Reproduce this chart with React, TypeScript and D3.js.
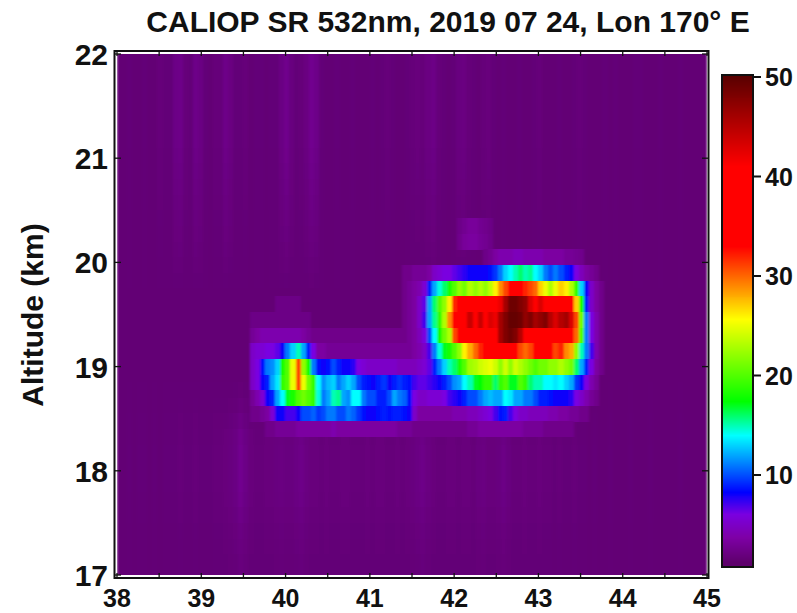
import React from "react";
import * as d3 from "d3";

const titleText = "CALIOP SR 532nm, 2019 07 24, Lon 170° E";
const yLabel = "Altitude (km)";
const xTicks = [38, 39, 40, 41, 42, 43, 44, 45];
const yTicks = [17, 18, 19, 20, 21, 22];
const cbTicks = [10, 20, 30, 40, 50];

const colorValues = [1.2, 3.7, 6, 8.3, 14, 17.4, 25.6, 33, 41, 50.2];
const colorHex = ["#5e006c", "#7e00a6", "#7a00e0", "#0000ff", "#00ffff", "#00ff00", "#ffff00", "#ff0000", "#ff0000", "#580000"];

const lonStep = 0.06;
const altStep = 0.15;
const bgBase = 1.6;
// background curtain: vertical streak profile, one value per 0.06 deg from 38 E
const bgTop = [
  1.6, 1.6, 1.7, 1.6, 1.6, 1.7, 1.6, 1.6, 1.8, 1.7, 1.7, 2.3, 2.4, 1.8, 1.7, 2.4, 2.2, 1.7, 1.6, 1.8,
  1.8, 2.4, 2.1, 1.7, 1.7, 1.8, 1.6, 1.7, 1.7, 1.6, 1.7, 1.7, 2.2, 2.6, 2.0, 1.7, 1.8, 2.1, 2.7, 2.4,
  1.7, 1.6, 1.6, 1.7, 1.6, 1.6, 1.7, 1.6, 1.6, 1.6, 1.7, 1.6, 1.7, 1.8, 1.7, 1.6, 1.6, 1.7, 1.8, 1.9,
  1.8, 2.1, 2.3, 1.8, 1.7, 1.6, 1.7, 2.0, 2.1, 1.8, 1.7, 1.6, 1.8, 1.9, 1.7, 1.6, 1.7, 1.6, 1.6, 1.7,
  1.6, 1.6, 1.7, 1.8, 1.6, 1.6, 1.6, 1.7, 1.6, 1.6, 1.7, 1.8, 1.7, 1.6, 1.6, 1.6, 1.7, 1.6, 1.7, 1.6,
  1.6, 1.6, 1.7, 1.7, 1.6, 1.6, 1.6, 1.7, 1.6, 1.6, 1.6, 1.7, 1.6, 1.6, 1.6, 1.6, 1.6,
];
const bgBottom = [
  1.6, 1.6, 1.7, 1.6, 1.7, 1.7, 1.6, 1.7, 1.6, 1.7, 1.7, 1.7, 1.8, 1.7, 1.7, 1.8, 1.7, 1.7, 1.7, 1.8,
  1.8, 1.9, 2.0, 2.2, 2.7, 2.3, 1.9, 1.8, 1.8, 1.9, 1.9, 2.0, 2.1, 2.0, 2.0, 2.2, 2.4, 2.1, 1.9, 1.9,
  1.8, 1.9, 1.8, 1.8, 1.9, 1.9, 1.8, 1.8, 1.8, 1.9, 1.8, 1.9, 1.9, 1.8, 1.8, 1.9, 1.8, 1.9, 2.0, 2.2,
  2.4, 2.1, 1.9, 1.8, 1.8, 1.9, 1.9, 1.8, 1.9, 1.9, 1.8, 2.0, 2.1, 1.9, 1.9, 2.0, 2.3, 2.0, 1.8, 1.8,
  1.9, 1.8, 1.8, 1.9, 1.8, 1.8, 1.7, 1.8, 1.7, 1.7, 1.8, 1.7, 1.7, 1.6, 1.7, 1.6, 1.6, 1.7, 1.6, 1.6,
  1.6, 1.7, 1.6, 1.6, 1.6, 1.7, 1.6, 1.6, 1.6, 1.6, 1.6, 1.7, 1.6, 1.6, 1.6, 1.6, 1.6,
];
// how strongly the streaks show at each 0.15 km altitude row, from 22 km down
const bgStrength = [1, 1, 1, 1, 1, 1, 0.9, 0.8, 0.7, 0.6, 0.5, 0.4, 0.3, 0.2, 0.1, 0, 0, 0, 0, 0, 0, 0.1, 0.3, 0.6, 0.9, 1, 1, 1, 0.9, 0.7, 0.5, 0.4, 0.3, 0.3];

// aerosol plume: 14 altitude rows from the top, 70 longitude cells each
const plumeLonStart = 39.578;
const plumeAltTop = 20.424;
const r00 = [2,2,2,2,2,2,2,2,2,2, 2,2,2,2,2,2,2,2,2,2, 2,2,2,2,2,2,2,2,2,2, 2,2,2,2,2,2,2,2,2,2, 2,2.4,2.8,3.2,3.2,2.8,2.6,2.3,2,2, 2,2,2,2,2,2,2,2,2,2, 2,2,2,2,2,2,2,2,2,2];
const r01 = [2,2,2,2,2,2,2,2,2,2, 2,2,2,2,2,2,2,2,2,2, 2,2,2,2,2,2,2,2,2,2, 2,2,2,2,2,2,2,2,2,2, 2,2.6,3.2,3.4,3.4,3,2.8,2.4,2,2, 2,2,2,2,2,2,2,2,2,2, 2,2,2,2,2,2,2,2,2,2];
const r02 = [2,2,2,2,2,2,2,2,2,2, 2,2,2,2,2,2,2,2,2,2, 2,2,2,2,2,2,2,2,2,2, 2,2,2,2,2,2.2,2.2,2.2,2.2,2.2, 2.2,2.2,2.2,2.2,2.2,2.2,2.4,2.8,3.5,4, 4,4,4.5,4.5,4,4,4,4,3.5,3.5, 3.5,3.5,3,3,2.8,2.6,2.2,2.2,2.2,2.2];
const r03 = [2,2,2,2,2,2,2,2,2,2, 2,2,2,2,2,2,2,2,2,2, 2,2,2,2,2,2,2,2,2,2, 2.5,2.5,3,3,3,3.5,5,5.5,6,6, 6.5,7,7.5,8,8,8,8,8.5,9.5,11, 13,14,15,16,15,15.5,14,13,11,10, 11,10,9,8,6,4.5,3.5,3,2.5,2.2];
const r04 = [2,2,2,2,2,2,2,2,2,2, 2,2,2,2,2,2,2,2,2,2, 2,2,2,2,2,2,2,2,2,2, 2.5,3,3.5,4,5.5,9,12,14.5,16,18, 20,22,21,23,22,23,22,23.5,26,29, 31,34,34,33,32,31,30,27,25,23, 25,27,26,23,19,13,8,5,3.5,2.5];
const r05 = [2,2,2,2,2,2.3,2.3,2.3,2.3,2.3, 2,2,2,2,2,2,2,2,2,2, 2,2,2,2,2,2,2,2,2,2, 2.5,3,3.5,5,6.5,12,16,20,22,26, 32,35,37,37,37,38,37,38,39,42, 46,49,49,48,47,43,39,43,41,37, 38,37,38,36,27,18,9,5,3.5,2.5];
const r06 = [2.3,2.3,2.3,2.3,2.3,2.3,2.3,2.3,2.3,2.3, 2.3,2.3,2.2,2,2,2,2,2,2,2, 2,2,2,2,2,2,2,2,2,2, 2.5,3,3.5,5,7,12,15.5,19,23,29, 34,37,39,44,40,44,40,43,42,46, 48,49.5,49.5,49,47,48,46,47,48,45, 43,45,46,43,31,21,11,6,4,2.5];
const r07 = [3,3.5,4,4,4,4,4,4,4,4, 3.5,3,2.5,2.5,2.5,2.5,2.5,2.5,2.5,2.5, 2.5,2.5,2.5,2.5,2.5,2.5,2.5,2.5,2.5,2.5, 2.5,3,3.5,4.5,6,10,14,18,21,23, 31,36,37,37,36,38,37,36,39,46, 48,49,48,45,41,39,40,38,39,37, 38,37,38,36,30,20,11,6,4,2.5];
const r08 = [5,5.5,5.5,6,6,6.5,8,11,13,15, 12,9,6,3.5,3.5,3,3,3,3,3, 3,3,3,3,3,3,3,3,3,3, 3,3,3.5,4,5,7,11,14.5,17,18, 20,22,26,28,30,32,35,36,37,36, 37,38,36,31,30,31,36,36,37,35, 31,32,29,28,22,15,11,7,4,2.5];
const r09 = [5,6,8.5,11,11.5,13,18,20,25,31, 22,18,11,8.5,8,8.5,10,9,8,8, 7.5,6,5.5,5,5,5,5,5,5,4.5, 4.5,4.5,4.5,5,5.5,6.5,9,11,13,15, 16,18,20,22.5,23,24,24.5,25,24,22, 24,22,24,23,22,21,20,21,21,22, 22,23,22,21,16,12,9,6,3.5,2.5];
const r10 = [5,6,8,9,12,13.5,19,20,25,31, 25,21,19,14,11.5,12.5,13,11,12,13, 12,10,9,8.5,8,9,9.5,8,9,9.5, 9,8.5,7,6.5,6.5,7,7.5,8,9,10, 11.5,12,14,15,17,17.5,19,19,16,19, 20,17,17,20,19,16,15,15,14,14, 13.5,14,13,12,9.5,8,6,4,3,2.2];
const r11 = [3,4,5.5,8,9,12,14,17,18,20, 21,20,19,14.5,11,12,15,15.5,12,11.5, 14,14,11,10,10,9,9,10,12,11, 10.5,8.5,6,5,5,5.5,5.5,5.5,6,7, 7.5,8,9,10,10,11,12,12.5,12,12, 14,13.5,12,12,11,11,10,9,9,8.5, 8,8,8,7.5,6,5,4,3,2.5,2.2];
const r12 = [2.5,2.5,3,3.5,5.5,8,8,7,7,8, 10,10,10.5,9.5,10,11,11,10,10,11, 10.5,9.5,8.5,8,8,8.5,9,8.5,9,9, 8.5,8,5,3.5,3.5,3.5,3.5,3.5,3.5,3.5, 4,4,4,4.5,4.5,5,5.5,6,7,8.5, 9,7,6,5,5,4.5,4.5,4.5,4.5,4, 4,3.5,3.5,3,3,2.5,2.5,2.2,2,2];
const r13 = [2,2,2.2,2.5,2.5,3,3,3,3,3.5, 3.5,3.5,3.5,3.5,3.5,3.5,4,3.5,3.5,3.5, 3.5,3.5,3.5,3.5,3.5,3.5,3.5,3.5,3.5,3, 3,3,2.5,2.5,2.5,2.5,2.5,2.5,2.5,2.5, 2.5,2.5,2.5,3,3,3.5,3.5,3.5,3.5,3.5, 3.5,3.5,3.5,3.5,3,3,3,3,2.5,2.5, 2.5,2.5,2.5,2.5,2.2,2.2,2,2,2,2];
const plumeRows = [r00, r01, r02, r03, r04, r05, r06, r07, r08, r09, r10, r11, r12, r13];

const x = d3.scaleLinear().domain([38, 45]).range([117, 707]);
const y = d3.scaleLinear().domain([17, 22]).range([575, 54]);
const color = d3.scaleLinear<string>().domain(colorValues).range(colorHex).clamp(true);
const cbY = d3.scaleLinear().domain([10, 50]).range([475, 77]);

const font = "'Liberation Sans', Arial, sans-serif";

export default function App() {
  const minorX = d3.range(38, 45.01, 0.5);
  const bgCells = bgStrength.flatMap((s, j) => {
    const altT = 22 - j * altStep;
    const altB = Math.max(17, altT - altStep);
    const arr = j < 17 ? bgTop : bgBottom;
    return arr.map((v, i) => {
      const l0 = 38 + i * lonStep;
      const l1 = Math.min(45, l0 + lonStep);
      return (
        <rect key={`b${j}-${i}`} x={x(l0)} y={y(altT)} width={x(l1) - x(l0) + 0.4} height={y(altB) - y(altT) + 0.4} fill={color(bgBase + (v - bgBase) * s)} />
      );
    });
  });
  const plumeCells = plumeRows.flatMap((row, j) => {
    const altT = plumeAltTop - j * altStep;
    return row.map((v, i) => {
      if (v <= 2.2) return null;
      const l0 = plumeLonStart + i * lonStep;
      return (
        <rect key={`p${j}-${i}`} x={x(l0)} y={y(altT)} width={x(l0 + lonStep) - x(l0) + 0.4} height={y(altT - altStep) - y(altT) + 0.4} fill={color(v)} />
      );
    });
  });
  const barValues = d3.range(0.8, 50.2, 0.1);
  return (
    <svg width={797} height={613} style={{ position: "absolute", left: 0, top: 0, background: "#fff" }} fontFamily={font} fontWeight="bold">
      <defs>
        <clipPath id="plot"><rect x={117} y={54} width={590} height={521} /></clipPath>
        <filter id="soft" x="-2%" y="-2%" width="104%" height="104%"><feGaussianBlur stdDeviation="1.3 0.6" /></filter>
      </defs>
      <g clipPath="url(#plot)">
        <g filter="url(#soft)" shapeRendering="crispEdges">
          {bgCells}
          {plumeCells}
        </g>
      </g>
      <rect x={114.5} y={51} width={594} height={527} fill="none" stroke="#111" strokeWidth={2} />
      {minorX.map((t) => (
        <g key={t} stroke="#111" strokeWidth={1.3}>
          <line x1={x(t)} x2={x(t)} y1={51} y2={56} />
          <line x1={x(t)} x2={x(t)} y1={578} y2={573} />
        </g>
      ))}
      {yTicks.map((t) => (
        <g key={t} stroke="#111" strokeWidth={1.3}>
          <line x1={114.5} x2={121} y1={y(t)} y2={y(t)} />
          <line x1={708.5} x2={702} y1={y(t)} y2={y(t)} />
        </g>
      ))}
      <text x={448} y={32} textAnchor="middle" fontSize={30} fill="#111">{titleText}</text>
      <text transform="translate(43,315) rotate(-90)" textAnchor="middle" fontSize={30} fill="#111">{yLabel}</text>
      {yTicks.map((t) => (
        <text key={t} x={108} y={y(t) + 11} textAnchor="end" fontSize={30} fill="#111">{t}</text>
      ))}
      {xTicks.map((t) => (
        <text key={t} x={x(t)} y={607} textAnchor="middle" fontSize={25} fill="#111">{t}</text>
      ))}
      <g shapeRendering="crispEdges">
        {barValues.map((v) => (
          <rect key={v} x={722} width={31} y={Math.max(75, cbY(v + 0.1))} height={Math.abs(cbY(v) - cbY(v + 0.1)) + 0.6} fill={color(v)} />
        ))}
      </g>
      <rect x={722} y={75} width={31} height={492} fill="none" stroke="#111" strokeWidth={2} />
      {cbTicks.map((t) => (
        <g key={t}>
          <line x1={753} x2={761} y1={cbY(t)} y2={cbY(t)} stroke="#111" strokeWidth={2} />
          <text x={765} y={cbY(t) + 9} fontSize={25} fill="#111">{t}</text>
        </g>
      ))}
    </svg>
  );
}
